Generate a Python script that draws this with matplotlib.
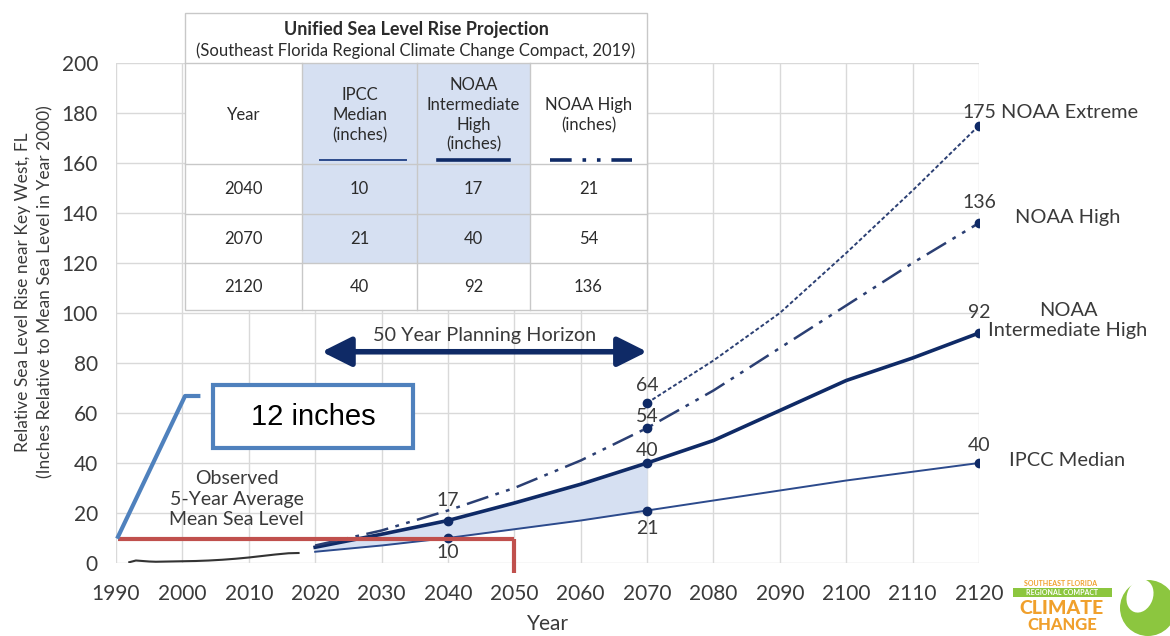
import matplotlib
matplotlib.use('Agg')
import matplotlib.pyplot as plt
from matplotlib.patches import Rectangle, Circle, Ellipse

plt.rcParams['font.family'] = ['Lato', 'DejaVu Sans']

# observed 5-year average mean sea level (inches)
obs_years = [1992, 1993, 1994, 1995, 1996, 1998, 2000, 2002, 2004, 2006, 2008, 2010, 2012, 2014, 2016, 2017.5]
obs_level = [0.3, 1.0, 0.8, 0.6, 0.5, 0.6, 0.7, 0.8, 1.0, 1.3, 1.7, 2.2, 2.8, 3.4, 3.9, 4.0]

# projections (inches)
proj_years = [2020, 2030, 2040, 2050, 2060, 2070, 2080, 2090, 2100, 2110, 2120]
ipcc_median = [4.5, 7, 10, 13.5, 17, 21, 25, 29, 33, 36.5, 40]
noaa_int_high = [6.3, 11.5, 17, 24, 31.5, 40, 49, 61, 73, 82, 92]
noaa_high = [7, 13, 21, 30, 41, 54, 69, 86, 103, 120, 136]
ext_years = [2070, 2080, 2090, 2100, 2110, 2120]
noaa_extreme = [64, 81, 100, 124, 149, 175]

table_years = [2040, 2070, 2120]
horizon = [2021, 2070]

navy = '#0f2a66'
txt = '#3a3a3a'
grid_c = '#d9d9d9'

W, H = 1170, 636
fig = plt.figure(figsize=(W / 100, H / 100), dpi=100)
ax = fig.add_axes([116 / W, 1 - 563 / H, (979 - 116) / W, 500 / H])

ax.set_xlim(1990, 2120)
ax.set_ylim(0, 200)
ax.set_xticks(range(1990, 2121, 10))
ax.set_yticks(range(0, 201, 20))
ax.grid(True, color=grid_c, lw=1)
ax.set_axisbelow(True)
for s in ax.spines.values():
    s.set_visible(False)
ax.tick_params(length=0, labelsize=15, colors=txt)
ax.tick_params(axis='y', pad=13)
ax.tick_params(axis='x', pad=15)
ax.set_xlabel('Year', fontsize=15, color=txt, labelpad=7)

# observed record
ax.plot(obs_years, obs_level, color='#333333', lw=1.5)

# shaded 2020-2070 band
yrs = proj_years[:6]
ax.fill_between(yrs, ipcc_median[:6], noaa_int_high[:6], color='#d6e0f2', lw=0)

ax.plot(proj_years, ipcc_median, color='#2c4a8c', lw=1.4)
ax.plot(proj_years, noaa_int_high, color=navy, lw=2.6)
ax.plot(proj_years, noaa_high, color='#2b3f73', lw=1.8, dashes=(9, 3, 1.5, 3, 1.5, 3))
ax.plot(ext_years, noaa_extreme, color='#2b3f73', lw=1.4, ls=(0, (2, 1.2)))

# markers
for yr in table_years:
    i = proj_years.index(yr)
    ax.plot([yr, yr], [ipcc_median[i], noaa_int_high[i]], 'o', color=navy, ms=6, ls='none')
for yr in [2070, 2120]:
    ax.plot(yr, noaa_high[proj_years.index(yr)], 'o', color=navy, ms=6)
    ax.plot(yr, noaa_extreme[ext_years.index(yr)], 'o', color=navy, ms=6)

# value labels
lab_kw = dict(fontsize=14, color=txt, ha='center', va='center')
i40, i70, i120 = [proj_years.index(y) for y in table_years]
ax.text(2040, noaa_int_high[i40] + 8.2, '%d' % noaa_int_high[i40], **lab_kw)
ax.text(2040, ipcc_median[i40] - 6, '%d' % ipcc_median[i40], **lab_kw)
ax.text(2070, noaa_extreme[0] + 7, '%d' % noaa_extreme[0], **lab_kw)
ax.text(2070, noaa_high[i70] + 4.4, '%d' % noaa_high[i70], **lab_kw)
ax.text(2070, noaa_int_high[i70] + 5.2, '%d' % noaa_int_high[i70], **lab_kw)
ax.text(2070, ipcc_median[i70] - 7, '%d' % ipcc_median[i70], **lab_kw)
ax.text(2120, noaa_extreme[-1] + 5.4, '%d' % noaa_extreme[-1], clip_on=False, **lab_kw)
ax.text(2120, noaa_high[i120] + 8, '%d' % noaa_high[i120], clip_on=False, **lab_kw)
ax.text(2120, noaa_int_high[i120] + 8, '%d' % noaa_int_high[i120], clip_on=False, **lab_kw)
ax.text(2120, ipcc_median[i120] + 7, '%d' % ipcc_median[i120], clip_on=False, **lab_kw)

# series names on the right
name_kw = dict(fontsize=14.4, color=txt, va='center')
ax.text(2123.3, 180.4, 'NOAA Extreme', ha='left', **name_kw)
ax.text(2133.4, 138.4, 'NOAA High', ha='center', **name_kw)
ax.text(2133.4, 97, 'NOAA\nIntermediate High', ha='center', linespacing=1.15, **name_kw)
ax.text(2133.3, 41, 'IPCC Median', ha='center', **name_kw)

# planning horizon arrow
ax.annotate('', xy=(horizon[1], 84.5), xytext=(horizon[0], 84.5),
            arrowprops=dict(arrowstyle='<|-|>,head_length=0.9,head_width=0.45', color=navy,
                            lw=4, mutation_scale=20, shrinkA=0, shrinkB=0))
ax.text(sum(horizon) / 2, 91.2, '50 Year Planning Horizon', fontsize=14.3, color=txt,
        ha='center', va='center')

ax.text(2008.2, 25.6, 'Observed\n5-Year Average\nMean Sea Level', fontsize=14, color=txt,
        ha='center', va='center', linespacing=1.25)

# 12 inch callout
ax.plot([1990.3, 2050], [9.5, 9.5], color='#c0504d', lw=3, clip_on=False, solid_capstyle='butt')
ax.plot([2050, 2050], [9.5, -4], color='#c0504d', lw=3, clip_on=False, solid_capstyle='butt')
ax.plot([1990.3, 2000.4, 2002.4], [10.5, 66.8, 66.8], color='#4f81bd', lw=3, clip_on=False)
ax.add_patch(Rectangle((2004.6, 46), 30.2, 25.2, facecolor='white', edgecolor='#4f81bd', lw=3))
ax.text(2019.7, 58.4, '12 inches', family=['Liberation Sans', 'DejaVu Sans'], fontsize=21,
        color='black', ha='center', va='center')

fig.text(34 / W, 1 - 292 / H,
         'Relative Sea Level Rise near Key West, FL\n(Inches Relative to Mean Sea Level in Year 2000)',
         rotation=90, ha='center', va='center', fontsize=12.5, color=txt, linespacing=1.5,
         multialignment='center')

# overlay in pixel units for the table and the logo
ov = fig.add_axes([0, 0, 1, 1])
ov.set_xlim(0, W)
ov.set_ylim(H, 0)
ov.axis('off')

cols = [185, 302, 417, 530, 647]
rows = [13, 63, 164, 214, 263, 310]
line_c = '#c8c8c8'
tab_txt = '#2b2b2b'
ov.add_patch(Rectangle((cols[0], rows[0]), cols[-1] - cols[0], rows[-1] - rows[0],
                       facecolor='white', edgecolor=line_c, lw=1))
ov.add_patch(Rectangle((cols[1], rows[1]), cols[3] - cols[1], rows[4] - rows[1],
                       facecolor='#d6e0f2', lw=0))
for yv in rows[1:-1]:
    ov.plot([cols[0], cols[-1]], [yv, yv], color=line_c, lw=1)
for xv in cols[1:-1]:
    ov.plot([xv, xv], [rows[1], rows[-1]], color=line_c, lw=1)

mid = (cols[0] + cols[-1]) / 2
ov.text(mid, 29, 'Unified Sea Level Rise Projection', fontsize=13, fontweight='bold',
        color=tab_txt, ha='center', va='center')
ov.text(mid, 51, '(Southeast Florida Regional Climate Change Compact, 2019)', fontsize=12,
        color=tab_txt, ha='center', va='center')

cx = [(cols[i] + cols[i + 1]) / 2 for i in range(4)]
head_kw = dict(fontsize=12, color=tab_txt, ha='center', va='center', linespacing=1.3)
ov.text(cx[0], 115, 'Year', **head_kw)
ov.text(cx[1], 115, 'IPCC\nMedian\n(inches)', **head_kw)
ov.text(cx[2], 115, 'NOAA\nIntermediate\nHigh\n(inches)', **head_kw)
ov.text(cx[3], 115, 'NOAA High\n(inches)', **head_kw)
ov.plot([320, 406], [160, 160], color='#2c4a8c', lw=1.4)
ov.plot([438, 509], [160, 160], color=navy, lw=2.6)
ov.plot([550, 632], [160, 160], color=navy, lw=2.6, dashes=(6, 3, 1, 3, 1, 3))

for r, yr in enumerate(table_years):
    yc = (rows[r + 2] + rows[r + 3]) / 2
    i = proj_years.index(yr)
    for c, v in enumerate([yr, ipcc_median[i], noaa_int_high[i], noaa_high[i]]):
        ov.text(cx[c], yc, '%d' % v, fontsize=12, color=tab_txt, ha='center', va='center')

# compact logo
orange = '#f0a02c'
green = '#8cc63f'
ov.text(1061, 583, 'SOUTHEAST FLORIDA', fontsize=5, fontweight='bold', color=orange,
        ha='center', va='center')
ov.add_patch(Rectangle((1013, 588), 99, 9, facecolor=green, lw=0))
ov.text(1062, 592.5, 'REGIONAL COMPACT', fontsize=5, fontweight='bold', color='white',
        ha='center', va='center')
ov.text(1062, 609, 'CLIMATE', fontsize=14, fontweight='black', color=orange,
        ha='center', va='center')
ov.text(1062, 625, 'CHANGE', fontsize=12, fontweight='black', color=orange,
        ha='center', va='center')
ov.add_patch(Circle((1148, 608), 28, facecolor=green, lw=0))
ov.add_patch(Ellipse((1140, 596), 26, 34, angle=20, facecolor='white', lw=0))

fig.savefig('out.png', dpi=100)
